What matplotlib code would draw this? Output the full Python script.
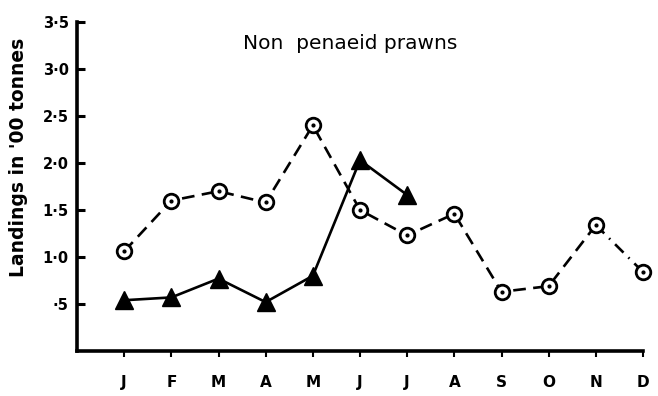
import matplotlib
matplotlib.use("Agg")
import matplotlib.pyplot as plt

# Monthly landings of non penaeid prawns ('00 tonnes)
months = ["J", "F", "M", "A", "M", "J", "J", "A", "S", "O", "N", "D"]
series_circle = [1.06, 1.60, 1.70, 1.58, 2.40, 1.50, 1.23, 1.46, 0.63, 0.69, 1.34, 0.84]
series_triangle = [0.54, 0.57, 0.77, 0.52, 0.80, 2.03, 1.66]
yticks = [0.5, 1.0, 1.5, 2.0, 2.5, 3.0, 3.5]
ytick_labels = ["·5", "1·0", "1·5", "2·0", "2·5", "3·0", "3·5"]

plt.rcParams["font.family"] = ["DejaVu Sans"]

fig = plt.figure(figsize=(6.58, 3.96), dpi=100)
W, H = 658, 396
ax = fig.add_axes([77 / W, 1 - 351 / H, (643 - 77) / W, (351 - 22) / H])

x_all = list(range(len(months)))
lw = 1.9

# circle series: dashed through November, dash-dot into December
ax.plot(x_all[:11], series_circle[:11], color="black", lw=lw,
        dashes=(4.8, 2.8), zorder=2, clip_on=False)
ax.plot(x_all[10:], series_circle[10:], color="black", lw=lw,
        dashes=(4.5, 2.6, 0.6, 2.6), zorder=2, clip_on=False)
ax.plot(x_all, series_circle, ls="none", marker="o", ms=10.5, mfc="white",
        mec="black", mew=2.0, zorder=3, clip_on=False)
ax.plot(x_all, series_circle, ls="none", marker="o", ms=2.0, mfc="black",
        mec="black", zorder=4, clip_on=False)

# triangle series: solid line
xt = x_all[:len(series_triangle)]
ax.plot(xt, series_triangle, color="black", lw=lw, marker="^", ms=13,
        mfc="black", mec="black", zorder=5, clip_on=False)

ax.set_xlim(-1, 11)
ax.set_ylim(0, 3.5)

ax.spines["top"].set_visible(False)
ax.spines["right"].set_visible(False)
ax.spines["left"].set_linewidth(2.6)
ax.spines["bottom"].set_linewidth(2.6)

ax.set_xticks(x_all)
ax.set_xticklabels(months, fontsize=11, fontweight="bold")
ax.tick_params(axis="x", direction="out", length=4, width=1.5, pad=13)

ax.set_yticks(yticks)
ax.set_yticklabels(ytick_labels, fontsize=10.5, fontweight="bold")
ax.tick_params(axis="y", direction="in", length=6, width=2.2, pad=6)

ax.set_ylabel("Landings in '00 tonnes", fontsize=13.5, fontweight="bold")
ax.yaxis.set_label_coords(-0.087, 0.59)

ax.text(4.8, 3.27, "Non  penaeid prawns", fontsize=14.5, ha="center", va="center")

fig.savefig("out.png", dpi=100)
